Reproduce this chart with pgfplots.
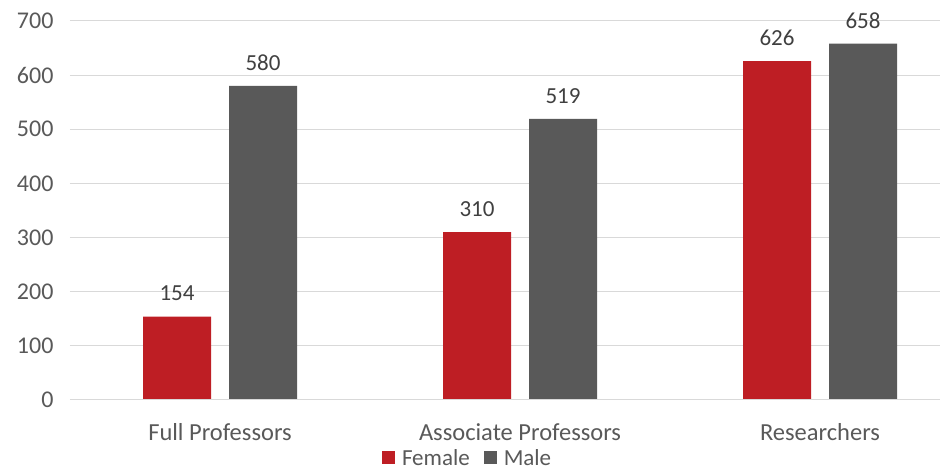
\documentclass[border=0pt]{standalone}
\usepackage{fontspec}
\setmainfont{Carlito}
\usepackage{pgfplots}
\pgfplotsset{compat=1.18}
\definecolor{fem}{RGB}{190,30,36}
\definecolor{mal}{RGB}{89,89,89}
\definecolor{txt}{RGB}{89,89,89}
\definecolor{grd}{RGB}{217,217,217}
\newcommand{\chartfont}{\fontsize{23}{27}\selectfont}
\newcommand{\tickfont}{\fontsize{24}{28}\selectfont}
\newcommand{\catfont}{\fontsize{24.5}{29}\selectfont}
\begin{document}
\begin{tikzpicture}
\begin{axis}[
    name=ax,
    scale only axis,
    width=870pt, height=379pt,
    ybar=18pt,
    bar width=68pt,
    xmin=-0.5, xmax=2.4,
    ymin=0, ymax=700,
    ytick={0,100,...,700},
    xtick={0,1,2},
    xticklabels={Full Professors, Associate Professors, Researchers},
    /pgf/number format/assume math mode=true,
    tick label style={font=\tickfont, text=txt},
    yticklabel style={xshift=-13pt},
    xticklabel style={font=\catfont, yshift=-20pt},
    ymajorgrids=true,
    grid style={grd, line width=1pt},
    axis line style={draw=none},
    axis x line*=bottom,
    major tick length=0pt,
    nodes near coords,
    every node near coord/.append style={font=\chartfont, text=black!75, anchor=south, yshift=12pt},
    legend style={
        at={(0.457,-0.153)}, anchor=center,
        draw=none, font=\chartfont, text=txt,
        legend columns=2,
        /tikz/every even column/.append style={column sep=12pt},
    },
    legend image code/.code={\fill[#1] (0pt,-6.5pt) rectangle (13pt,6.5pt); \path (18pt,0pt);},
]
\addplot[fill=fem, draw=none] coordinates {(0,154) (1,310) (2,626)};
\addplot[fill=mal, draw=none] coordinates {(0,580) (1,519) (2,658)};
\draw[grd, line width=1pt] (axis cs:-0.5,0) -- (axis cs:2.4,0);
\legend{Female, Male}
\end{axis}
\pgfresetboundingbox
\path[use as bounding box] ([shift={(-70pt,-73pt)}]ax.south west) rectangle ([shift={(1pt,21pt)}]ax.north east);
\end{tikzpicture}
\end{document}
